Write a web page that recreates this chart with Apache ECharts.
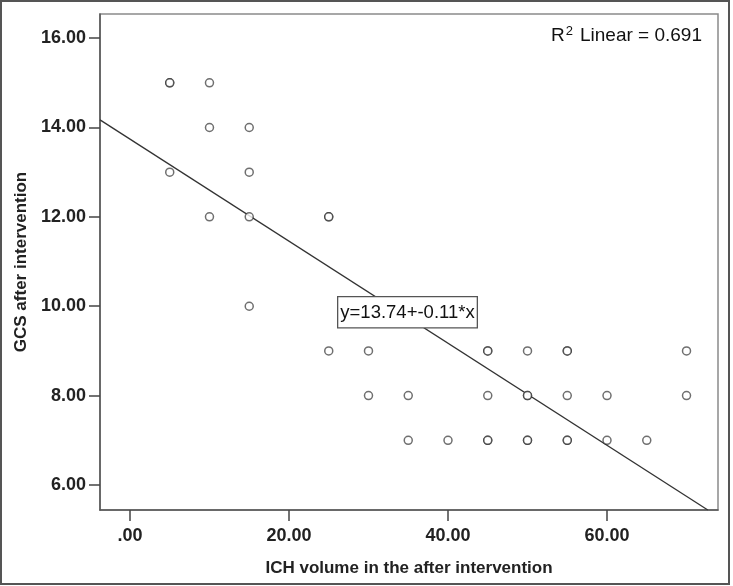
<!DOCTYPE html>
<html>
<head>
<meta charset="utf-8">
<script src="https://cdn.jsdelivr.net/npm/echarts@6/dist/echarts.min.js"></script>
<style>
html,body{margin:0;padding:0;background:#fff;}
#chart{width:733px;height:586px;}
</style>
</head>
<body>
<div id="chart"></div>
<script>
// ICH volume (x) and GCS (y) points; duplicates listed twice
const ichVolume = [5,5,10,5,10,10,15,15,15,15,25,25,25,30,30,35,35,40,45,45,45,45,45,50,50,50,50,50,55,55,55,55,55,60,60,65,70,70];
const gcsAfter  = [15,15,15,13,14,12,14,13,12,10,12,12,9,9,8,8,7,7,9,9,8,7,7,9,8,8,7,7,9,9,8,7,7,8,7,7,9,8];
const xTickValues = [0,20,40,60];
const xTickLabels = ['.00','20.00','40.00','60.00'];
const yTickValues = [6,8,10,12,14,16];
const yTickLabels = ['6.00','8.00','10.00','12.00','14.00','16.00'];
const xRange = [-3.77, 73.96];
const yRange = [5.44, 16.54];
const fitIntercept = 13.74;
const fitSlope = -0.1142;
const equationText = 'y=13.74+-0.11*x';
const r2Value = '0.691';

const pts = ichVolume.map((x,i)=>[x,gcsAfter[i]]);
const xEnd = Math.min(xRange[1], (yRange[0]-fitIntercept)/fitSlope);
const fitLine = [[xRange[0], fitIntercept + fitSlope*xRange[0]], [xEnd, fitIntercept + fitSlope*xEnd]];

const chart = echarts.init(document.getElementById('chart'));
const font = 'Liberation Sans, Arial, sans-serif';
chart.setOption({
  animation:false,
  backgroundColor:'#fff',
  grid:{left:100, top:14, right:15, bottom:76, show:true, borderColor:'#8a8a8a', borderWidth:1.5, backgroundColor:'transparent'},
  xAxis:{
    type:'value', min:xRange[0], max:xRange[1],
    name:'ICH volume in the after intervention', nameLocation:'middle', nameGap:50,
    nameTextStyle:{fontFamily:font, fontWeight:'bold', fontSize:17, color:'#222'},
    axisLine:{show:true, onZero:false, lineStyle:{color:'#555', width:1.5}},
    axisTick:{show:true, length:11, customValues:xTickValues, lineStyle:{color:'#444', width:1.5}},
    axisLabel:{customValues:xTickValues, margin:17, fontFamily:font, fontSize:18, fontWeight:'bold', color:'#222',
      formatter:v=>{const i=xTickValues.indexOf(Math.round(v)); return i>=0?xTickLabels[i]:'';}},
    splitLine:{show:false}
  },
  yAxis:{
    type:'value', min:yRange[0], max:yRange[1],
    name:'GCS after intervention', nameLocation:'middle', nameGap:70, nameRotate:90,
    nameTextStyle:{fontFamily:font, fontWeight:'bold', fontSize:17, color:'#222'},
    axisLine:{show:true, onZero:false, lineStyle:{color:'#555', width:1.5}},
    axisTick:{show:true, length:11, customValues:yTickValues, lineStyle:{color:'#444', width:1.5}},
    axisLabel:{customValues:yTickValues, margin:14, fontFamily:font, fontSize:18, fontWeight:'bold', color:'#222',
      formatter:v=>{const i=yTickValues.indexOf(Math.round(v)); return i>=0?yTickLabels[i]:'';}},
    splitLine:{show:false}
  },
  series:[
    {type:'line', data:fitLine, symbol:'none', lineStyle:{color:'#333', width:1.3}, z:2},
    {type:'scatter', data:pts, symbol:'circle', symbolSize:8,
      itemStyle:{color:'#fff', borderColor:'rgba(30,30,30,0.8)', borderWidth:1.5}, z:3}
  ],
  graphic:[
    {type:'rect', shape:{x:1, y:1, width:728, height:583}, style:{fill:'none', stroke:'#555', lineWidth:2}, silent:true},
    {type:'text', left:337, top:296, z:10,
      style:{text:equationText, fontFamily:font, fontSize:18.5, fill:'#111', backgroundColor:'#fff', borderColor:'#555', borderWidth:1.3, padding:[6,2,5,2]}},
    {type:'text', right:31, top:25, z:10,
      style:{rich:{a:{fontFamily:font, fontSize:19, fill:'#111'}, s:{fontFamily:font, fontSize:13, fill:'#111', verticalAlign:'top', padding:[0,7,9,1]}},
        text:'{a|R}{s|2}{a|Linear = '+r2Value+'}'}}
  ]
});
</script>
</body>
</html>
